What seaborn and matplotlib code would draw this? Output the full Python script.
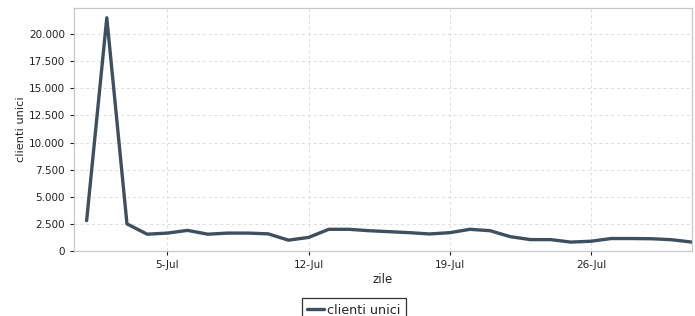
import matplotlib
matplotlib.use("Agg")
import matplotlib.pyplot as plt
import matplotlib.dates as mdates
from matplotlib.ticker import FuncFormatter
import seaborn as sns
import pandas as pd

# Daily unique clients, July
days = pd.date_range("2023-07-01", "2023-07-31", freq="D")
clienti = [2800, 21500, 2500, 1550, 1650, 1900, 1550, 1650, 1650, 1580,
           1000, 1250, 2000, 2000, 1870, 1780, 1690, 1570, 1690, 2000,
           1870, 1320, 1050, 1050, 820, 900, 1150, 1150, 1130, 1040, 820]
tick_days = pd.to_datetime(["2023-07-05", "2023-07-12", "2023-07-19", "2023-07-26"])

df = pd.DataFrame({"zile": days, "clienti unici": clienti})

sns.set_theme(style="white")
plt.rcParams["font.family"] = ["DejaVu Sans"]

fig = plt.figure(figsize=(6.95, 3.16), dpi=100)
ax = fig.add_axes([0.1065, 0.2057, 0.889, 0.769])

sns.lineplot(data=df, x="zile", y="clienti unici", ax=ax, color="#3e4f5f",
             linewidth=2.4, label="clienti unici", legend=False)

# Axes limits
ax.set_xlim(days[0] - pd.Timedelta(hours=15), days[-1])
ax.set_ylim(0, 22400)

# Ticks
ax.set_xticks(tick_days)
ax.xaxis.set_major_formatter(FuncFormatter(
    lambda v, p: f"{mdates.num2date(v).day}-{mdates.num2date(v).strftime('%b')}"))
ax.set_yticks(range(0, 20001, 2500))
ax.yaxis.set_major_formatter(FuncFormatter(lambda v, p: f"{int(v):,}".replace(",", ".")))
ax.tick_params(axis="both", labelsize=7.5, colors="#222222", length=3,
               width=0.8, direction="out", bottom=True, left=True)
for t in ax.get_xticklines() + ax.get_yticklines():
    t.set_color("#999999")

# Grid and frame
ax.grid(True, linestyle=(0, (3, 3)), color="#dddddd", linewidth=0.7)
for s in ax.spines.values():
    s.set_color("#c8c8c8")
    s.set_linewidth(0.9)

ax.set_xlabel("zile", fontsize=8.5, labelpad=2)
ax.set_ylabel("clienti unici", fontsize=8.2, labelpad=2)

# Legend under the plot (cut off by the bottom edge, as in the original)
leg = fig.legend(loc="upper center", bbox_to_anchor=(354 / 695, 1 - 298 / 316),
                 fontsize=9.2, frameon=True, fancybox=False, handlelength=1.3,
                 handletextpad=0.25, borderpad=0.45, borderaxespad=0)
leg.get_frame().set_edgecolor("black")
leg.get_frame().set_linewidth(0.9)

fig.savefig("out.png", dpi=100)
plt.close(fig)
